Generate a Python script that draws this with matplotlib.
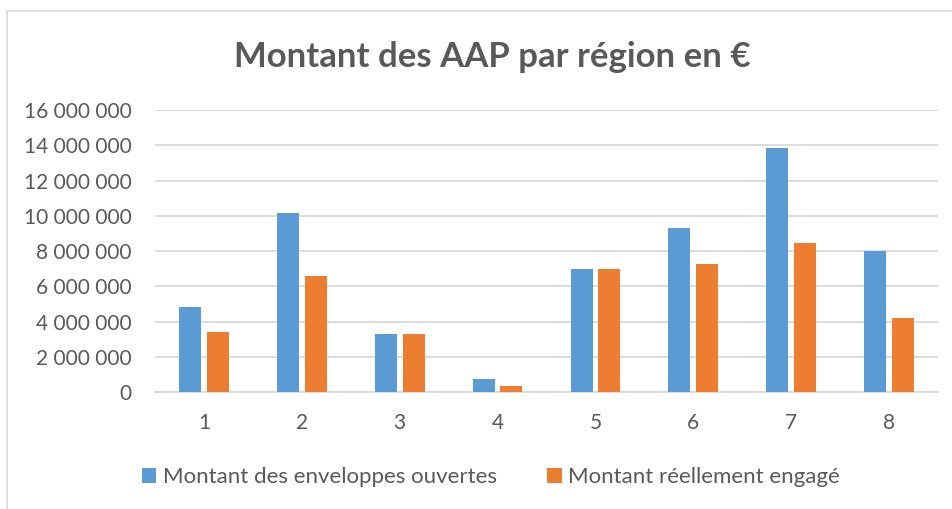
import matplotlib
matplotlib.use("Agg")
import matplotlib.pyplot as plt
from matplotlib.patches import Rectangle
import numpy as np

categories = ["1", "2", "3", "4", "5", "6", "7", "8"]
enveloppes = [4830000, 10170000, 3300000, 740000, 7000000, 9300000, 13870000, 8000000]
engage = [3400000, 6590000, 3300000, 370000, 7000000, 7300000, 8490000, 4190000]
yticks = [0, 2000000, 4000000, 6000000, 8000000, 10000000, 12000000, 14000000, 16000000]
series_names = ["Montant des enveloppes ouvertes", "Montant réellement engagé"]
title = "Montant des AAP par région en €"

BLUE = "#5B9BD5"
ORANGE = "#ED7D31"
TXT = "#595959"
GRID = "#D9D9D9"

plt.rcParams['font.family'] = ['Lato', 'DejaVu Sans']

W, H = 953, 509
fig = plt.figure(figsize=(W / 100, H / 100), dpi=100)
fig.patch.set_facecolor("white")

# chart border (right and bottom edges fall outside the image)
fig.patches.append(Rectangle((7 / W, -0.2), 1.2, 1.2 - 11 / H, transform=fig.transFigure,
                             fill=False, edgecolor=GRID, linewidth=1.2, zorder=0))

x0, x1 = 155, 938
y_top, y_bot = 110, 392.3
ax = fig.add_axes([x0 / W, 1 - y_bot / H, (x1 - x0) / W, (y_bot - y_top) / H])

x = np.arange(len(categories))
bw = 0.225
ax.bar(x - 0.142, enveloppes, width=bw, color=BLUE, label=series_names[0], zorder=3)
ax.bar(x + 0.142, engage, width=bw, color=ORANGE, label=series_names[1], zorder=3)

ax.set_xlim(-0.5, len(categories) - 0.5)
ax.set_ylim(0, 16000000)
ax.set_yticks(yticks)
ax.set_yticklabels([f"{v:,}".replace(",", " ") for v in yticks])
ax.set_xticks(x)
ax.set_xticklabels(categories)
ax.grid(axis="y", color=GRID, linewidth=1.3, zorder=0)
for s in ["top", "right", "left"]:
    ax.spines[s].set_visible(False)
ax.spines["bottom"].set_color(GRID)
ax.spines["bottom"].set_linewidth(1.3)
ax.tick_params(axis="both", length=0, colors=TXT, labelsize=15)
ax.tick_params(axis="y", pad=17)
ax.tick_params(axis="x", pad=15)

fig.text(492 / W, 1 - 57 / H, title, ha="center", va="center",
         fontsize=25, fontweight="bold", color=TXT)

leg = fig.legend(loc="center", bbox_to_anchor=(491 / W, 1 - 477 / H), ncol=2,
                 frameon=False, fontsize=16, handlelength=0.65, handleheight=0.65,
                 handletextpad=0.3, columnspacing=2.25)
for t in leg.get_texts():
    t.set_color(TXT)

fig.savefig("out.png", dpi=100)
